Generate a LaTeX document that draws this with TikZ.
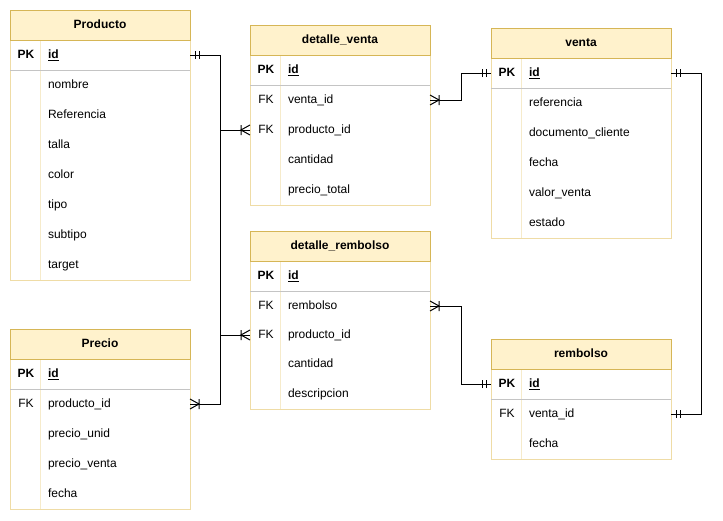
\documentclass[tikz,border=0pt]{standalone}
\usepackage{fontspec}
\setmainfont{Liberation Sans}
\definecolor{hdrfill}{HTML}{FFF2CC}
\definecolor{hdrline}{HTML}{D6B656}
\definecolor{bodyline}{HTML}{EFDCA6}
\definecolor{divline}{HTML}{F6EBCB}
\definecolor{sepline}{HTML}{C4C4C4}

% table frame: name, left x, top y, bottom y, title
\newcommand\ertable[5]{%
  \draw[bodyedge] ({#2},{#3+30}) -- ({#2},{#4}) -- ({#2+180},{#4}) -- ({#2+180},{#3+30});
  \draw[divedge] ({#2+30},{#3+30}) -- ({#2+30},{#4});
  \draw[sepedge] ({#2},{#3+60}) -- ({#2+180},{#3+60});
  \node[hdr] (#1) at ({#2+90},{#3+15}) {#5};
}
% table row: name, table left x, row centre y, key, field
\newcommand\erfield[5]{%
  \node[rowbox] (#1) at ({#2+90},{#3}) {};
  \node[keytxt] (#1-k) at ({#2+16},{#3}) {#4};
  \node[fldtxt] (#1-f) at ({#2+38},{#3}) {#5};
}

\begin{document}
\begin{tikzpicture}[x=1pt,y=-1pt,
  txt/.style={font=\fontsize{12}{14}\selectfont, inner sep=0pt, outer sep=0pt, text height=9pt, text depth=3pt, yshift=-0.8pt},
  hdr/.style={txt, yshift=0pt, draw=hdrline, fill=hdrfill, line width=0.8pt, minimum width=180pt, minimum height=30pt, font=\fontsize{12}{14}\selectfont\bfseries},
  rowbox/.style={minimum width=180pt, minimum height=30pt, inner sep=0pt, outer sep=0pt},
  keytxt/.style={txt},
  fldtxt/.style={txt, anchor=west},
  bodyedge/.style={draw=bodyline, line width=0.8pt},
  divedge/.style={draw=divline, line width=0.8pt},
  sepedge/.style={draw=sepline, line width=0.8pt},
  link/.style={draw=black, line width=1pt},
  mandone/.pic={\draw[link] (5,-4) -- (5,4) (9,-4) -- (9,4);},
  onemany/.pic={\draw[link] (0,-5) -- (9,0) -- (0,5) (9,-5) -- (9,5);}
]
\useasboundingbox[fill=white] (0,0) rectangle (723,520);

% Producto
\ertable{producto}{10}{10}{280}{Producto}
\erfield{p-id}{10}{55}{\textbf{PK}}{\textbf{\underline{id}}}
\erfield{p-nombre}{10}{85}{}{nombre}
\erfield{p-ref}{10}{115}{}{Referencia}
\erfield{p-talla}{10}{145}{}{talla}
\erfield{p-color}{10}{175}{}{color}
\erfield{p-tipo}{10}{205}{}{tipo}
\erfield{p-subtipo}{10}{235}{}{subtipo}
\erfield{p-target}{10}{265}{}{target}

% Precio
\ertable{precio}{10}{329}{509}{Precio}
\erfield{pr-id}{10}{374}{\textbf{PK}}{\textbf{\underline{id}}}
\erfield{pr-prod}{10}{404}{FK}{producto\_id}
\erfield{pr-unid}{10}{434}{}{precio\_unid}
\erfield{pr-venta}{10}{464}{}{precio\_venta}
\erfield{pr-fecha}{10}{494}{}{fecha}

% detalle_venta
\ertable{detventa}{250}{25}{205}{detalle\_venta}
\erfield{dv-id}{250}{70}{\textbf{PK}}{\textbf{\underline{id}}}
\erfield{dv-venta}{250}{100}{FK}{venta\_id}
\erfield{dv-prod}{250}{130}{FK}{producto\_id}
\erfield{dv-cant}{250}{160}{}{cantidad}
\erfield{dv-total}{250}{190}{}{precio\_total}

% detalle_rembolso
\ertable{detremb}{250}{231}{409}{detalle\_rembolso}
\erfield{dr-id}{250}{276}{\textbf{PK}}{\textbf{\underline{id}}}
\erfield{dr-remb}{250}{306}{FK}{rembolso}
\erfield{dr-prod}{250}{335}{FK}{producto\_id}
\erfield{dr-cant}{250}{364}{}{cantidad}
\erfield{dr-desc}{250}{394}{}{descripcion}

% venta
\ertable{venta}{491}{28}{238}{venta}
\erfield{v-id}{491}{73}{\textbf{PK}}{\textbf{\underline{id}}}
\erfield{v-ref}{491}{103}{}{referencia}
\erfield{v-doc}{491}{133}{}{documento\_cliente}
\erfield{v-fecha}{491}{163}{}{fecha}
\erfield{v-valor}{491}{193}{}{valor\_venta}
\erfield{v-estado}{491}{223}{}{estado}

% rembolso
\ertable{rembolso}{491}{339}{459}{rembolso}
\erfield{rb-id}{491}{384}{\textbf{PK}}{\textbf{\underline{id}}}
\erfield{rb-venta}{491}{414}{FK}{venta\_id}
\erfield{rb-fecha}{491}{444}{}{fecha}

% routing columns
\coordinate (busP) at (220,0);
\coordinate (busV) at (461,0);
\coordinate (busR) at (701,0);

% relationships
\draw[link] (p-id.east) -- (p-id.east -| busP) |- (dv-prod.west);
\draw[link] (p-id.east -| busP) |- (dr-prod.west);
\draw[link] (pr-prod.east) -- (pr-prod.east -| busP) |- (dr-prod.west);
\draw[link] (dv-venta.east) -- (dv-venta.east -| busV) |- (v-id.west);
\draw[link] (dr-remb.east) -- (dr-remb.east -| busV) |- (rb-id.west);
\draw[link] (v-id.east) -- (v-id.east -| busR) |- (rb-venta.east);

% cardinality marks
\pic at (p-id.east) {mandone};
\pic[rotate=180] at (dv-prod.west) {onemany};
\pic[rotate=180] at (dr-prod.west) {onemany};
\pic at (pr-prod.east) {onemany};
\pic at (dv-venta.east) {onemany};
\pic[rotate=180] at (v-id.west) {mandone};
\pic at (dr-remb.east) {onemany};
\pic[rotate=180] at (rb-id.west) {mandone};
\pic at (v-id.east) {mandone};
\pic at (rb-venta.east) {mandone};
\end{tikzpicture}
\end{document}
